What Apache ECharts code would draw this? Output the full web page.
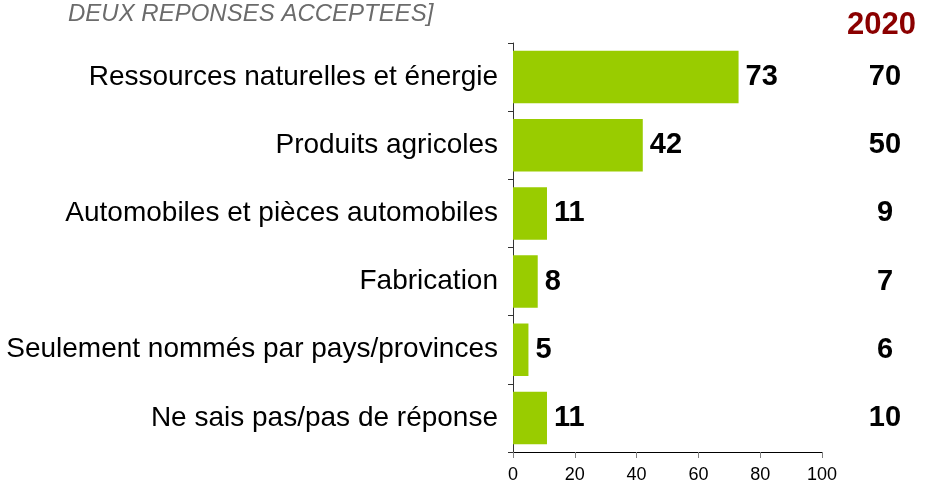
<!DOCTYPE html>
<html>
<head>
<meta charset="utf-8">
<script src="https://cdn.jsdelivr.net/npm/echarts@6/dist/echarts.min.js"></script>
<style>
  html, body { margin: 0; padding: 0; background: #fff; }
  #chart { width: 925px; height: 491px; }
</style>
</head>
<body>
<div id="chart"></div>
<script>
var categories = [
  'Ressources naturelles et énergie',
  'Produits agricoles',
  'Automobiles et pièces automobiles',
  'Fabrication',
  'Seulement nommés par pays/provinces',
  'Ne sais pas/pas de réponse'
];
var values2021 = [73, 42, 11, 8, 5, 11];
var values2020 = [70, 50, 9, 7, 6, 10];
var xTicks = [0, 20, 40, 60, 80, 100];

var chartDom = document.getElementById('chart');
var myChart = echarts.init(chartDom);
var option;

option = {
  backgroundColor: '#ffffff',
  animation: false,
  textStyle: { fontFamily: 'Liberation Sans, Arial, sans-serif' },
  title: [
    {
      text: 'DEUX REPONSES ACCEPTEES]',
      left: 63,
      top: -3,
      textStyle: {
        color: '#6b6b6b',
        fontStyle: 'italic',
        fontWeight: 'normal',
        fontSize: 24,
        fontFamily: 'Liberation Sans, Arial, sans-serif'
      }
    },
    {
      text: '2020',
      left: 842,
      top: 5,
      textStyle: {
        color: '#8b0000',
        fontWeight: 'bold',
        fontSize: 31,
        fontFamily: 'Liberation Sans, Arial, sans-serif'
      }
    }
  ],
  grid: {
    left: 513,
    right: 103,
    top: 43,
    bottom: 39,
    containLabel: false
  },
  xAxis: {
    type: 'value',
    min: xTicks[0],
    max: xTicks[xTicks.length - 1],
    interval: 20,
    splitLine: { show: false },
    axisLine: { show: true, lineStyle: { color: '#000', width: 1 } },
    axisTick: { show: true, length: 6, lineStyle: { color: '#808080' } },
    axisLabel: { color: '#000', fontSize: 18, margin: 14 }
  },
  yAxis: [
    {
      type: 'category',
      data: categories,
      inverse: true,
      axisLine: { show: true, lineStyle: { color: '#333', width: 1 } },
      axisTick: { show: true, length: 5, lineStyle: { color: '#333' } },
      axisLabel: { color: '#000', fontSize: 28, margin: 15 }
    },
    {
      type: 'category',
      data: categories,
      inverse: true,
      position: 'right',
      axisLine: { show: false },
      axisTick: { show: false },
      axisLabel: {
        color: '#000',
        fontSize: 29,
        fontWeight: 'bold',
        align: 'center',
        margin: 63,
        formatter: function (v, i) { return values2020[i]; }
      }
    }
  ],
  series: [
    {
      name: '2021',
      type: 'bar',
      data: values2021,
      barWidth: '77%',
      itemStyle: { color: '#99cc00' },
      label: {
        show: true,
        position: 'right',
        distance: 7,
        color: '#000',
        fontSize: 29,
        fontWeight: 'bold'
      }
    }
  ]
};

option && myChart.setOption(option);

window.addEventListener('resize', function () {
  myChart.resize();
});
</script>
</body>
</html>
